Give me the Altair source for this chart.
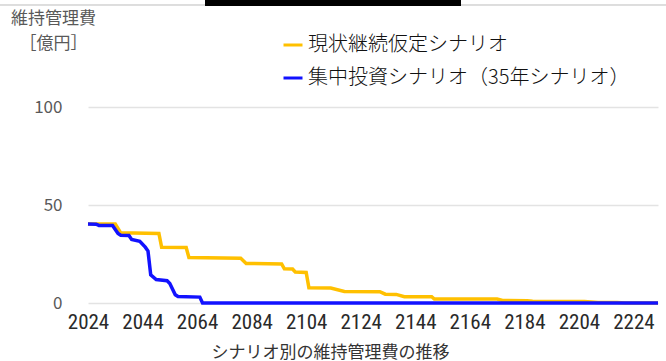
import altair as alt
import pandas as pd

# ---- data ----
series_names = ["現状継続仮定シナリオ", "集中投資シナリオ（35年シナリオ）"]
series_colors = ["#FFC000", "#1212FF"]

years_current = [2024, 2034, 2036, 2050, 2051, 2060, 2061, 2080, 2082, 2095, 2096,
                 2099, 2100, 2104, 2105, 2113, 2118, 2131, 2133, 2137, 2140, 2150,
                 2151, 2174, 2176, 2185, 2187, 2206, 2211, 2218, 2221, 2233]
values_current = [40.3, 40.3, 35.8, 35.5, 28.4, 28.3, 23.2, 22.8, 20.2, 19.9, 17.4,
                  17.3, 15.8, 15.6, 7.8, 7.6, 5.9, 5.8, 4.5, 4.4, 3.2, 3.2,
                  2.0, 2.0, 1.3, 1.2, 0.9, 0.8, 0.3, 0.2, 0.0, 0.0]

years_focus = [2024, 2027, 2028, 2033, 2035, 2036, 2039, 2040, 2043, 2045, 2046,
               2047, 2049, 2053, 2054, 2056, 2057, 2065, 2066, 2233]
values_focus = [40.3, 40.2, 39.6, 39.5, 35.5, 34.6, 34.4, 32.4, 31.5, 28.5, 26.5,
                14.3, 12.0, 11.4, 10.0, 4.2, 3.3, 3.0, 0.0, 0.0]

x_ticks = [2024, 2044, 2064, 2084, 2104, 2124, 2144, 2164, 2184, 2204, 2224]
y_ticks = [0, 50, 100]

y_title = ["維持管理費", "［億円］"]
x_title = "シナリオ別の維持管理費の推移"

df = pd.DataFrame({
    "year": years_current + years_focus,
    "value": values_current + values_focus,
    "series": [series_names[0]] * len(years_current) + [series_names[1]] * len(years_focus),
})

CJK = "Noto Sans CJK JP"

x_enc = alt.X(
    "year:Q",
    scale=alt.Scale(domain=[2024, 2233], nice=False, zero=False),
    axis=alt.Axis(
        values=x_ticks, format="d", grid=False, domain=False, ticks=False,
        labelFont="Liberation Sans Narrow, Roboto Condensed, Liberation Sans",
        labelFontSize=21, labelColor="#2a2a2a", labelPadding=8,
        labelFlush=False, labelOverlap=False,
        title=x_title, titleFont=CJK, titleFontSize=17, titleFontWeight="normal",
        titleColor="#333333", titleX=242, titleY=49, titleAlign="center",
        titleBaseline="middle", titleAnchor="start",
    ),
)
y_enc = alt.Y(
    "value:Q",
    scale=alt.Scale(domain=[0, 100], nice=False),
    axis=alt.Axis(
        values=y_ticks, domain=False, ticks=False,
        gridColor="#E3E3E3", gridWidth=1.5,
        labelFont=CJK, labelFontSize=17, labelColor="#595959", labelPadding=26,
        title=y_title, titleAngle=0, titleAlign="center", titleBaseline="top",
        titleX=-35, titleY=-97, titleFont=CJK, titleFontSize=17,
        titleFontWeight="normal", titleColor="#595959", titleLineHeight=25,
    ),
)
color_enc = alt.Color(
    "series:N",
    scale=alt.Scale(domain=series_names, range=series_colors),
    sort=series_names,
    legend=alt.Legend(
        title=None, orient="none", legendX=194, legendY=-73, direction="vertical",
        symbolType="stroke", symbolSize=361, symbolStrokeWidth=3,
        labelFont=CJK, labelFontSize=20, labelFontWeight=300,
        labelColor="#111111", labelLimit=500,
        rowPadding=12, labelOffset=4,
    ),
)

base = alt.Chart(df)
line_current = base.transform_filter(alt.datum.series == series_names[0]).mark_line(
    strokeWidth=3.5).encode(x=x_enc, y=y_enc, color=color_enc)
line_focus = base.transform_filter(alt.datum.series == series_names[1]).mark_line(
    strokeWidth=3.5).encode(x=x_enc, y=y_enc, color=color_enc)

# decorative top strip seen in the reference (cropped frame edge)
top_line = alt.Chart(df).mark_rule(color="#DDDDDD", strokeWidth=1).encode(
    x=alt.value(-88), x2=alt.value(578), y=alt.value(-102))
top_bar = alt.Chart(df).mark_rect(color="#000000").encode(
    x=alt.value(117), x2=alt.value(373), y=alt.value(-107), y2=alt.value(-101))

chart = alt.layer(line_current, line_focus, top_line, top_bar).properties(
    width=570, height=196,
    autosize=alt.AutoSizeParams(type="none"),
    padding={"left": 88, "top": 107, "right": 8, "bottom": 58},
    background="white",
).configure_view(stroke=None)

chart.save("out.html", embed_options={"renderer": "svg", "actions": False})
